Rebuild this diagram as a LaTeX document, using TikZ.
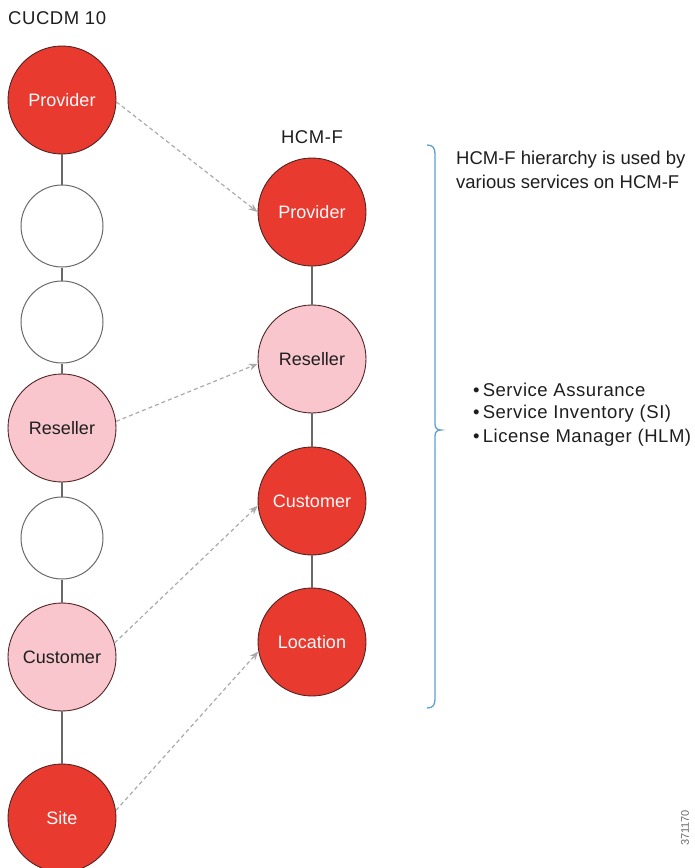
\documentclass[tikz,border=0pt]{standalone}
\usepackage{fontspec}
\setmainfont{Liberation Sans}
\newfontfamily\widesans[LetterSpace=3]{Liberation Sans}
\usetikzlibrary{arrows.meta}
\definecolor{hred}{RGB}{232,58,46}
\definecolor{hpink}{RGB}{248,198,204}
\definecolor{hedge}{RGB}{80,35,35}
\definecolor{hline}{RGB}{105,105,105}
\definecolor{hdash}{RGB}{170,170,170}
\definecolor{hblue}{RGB}{95,160,205}
\definecolor{htxt}{RGB}{30,30,30}
\begin{document}
\begin{tikzpicture}[x=1pt,y=-1pt,
  every node/.style={font=\fontsize{18}{22}\selectfont, text=htxt},
  bigred/.style={circle, draw=hedge, line width=0.9pt, fill=hred, minimum size=108pt, inner sep=0pt, text=white!92!hpink},
  bigpink/.style={circle, draw=hedge, line width=0.9pt, fill=hpink, minimum size=108pt, inner sep=0pt, text=htxt},
  empty/.style={circle, draw=hline, line width=1pt, fill=white, minimum size=82pt, inner sep=0pt},
  link/.style={draw=hline, line width=1.4pt},
  map/.style={draw=hdash, line width=1.2pt, dash pattern=on 4pt off 3pt, -{Stealth[length=9pt,width=7pt]}},
  label/.style={anchor=west, inner sep=0pt, align=left},
  side/.style={label, font=\widesans\fontsize{18.5}{24}\selectfont}]
\useasboundingbox (0,0) rectangle (695,868);
% left column
\node[bigred]  (lprov) at (62,100) {Provider};
\node[empty]   (w1)    at (62,226) {};
\node[empty]   (w2)    at (62,322) {};
\node[bigpink] (lres)  at (62,428) {Reseller};
\node[empty]   (w3)    at (62,538) {};
\node[bigpink] (lcus)  at (62,657) {Customer};
\node[bigred]  (lsite) at (62,818) {Site};
% right column
\node[bigred]  (rprov) at (312,212) {Provider};
\node[bigpink] (rres)  at (312,359) {Reseller};
\node[bigred]  (rcus)  at (312,501) {Customer};
\node[bigred]  (rloc)  at (312,642) {Location};
% titles
\node[side] (t1) at (8,18) {CUCDM 10};
\node[font=\widesans\fontsize{18.5}{22}\selectfont] (t2) at (312,137) {HCM-F};
% vertical links
\draw[link] (lprov) -- (w1);
\draw[link] (w1) -- (w2);
\draw[link] (w2) -- (lres);
\draw[link] (lres) -- (w3);
\draw[link] (w3) -- (lcus);
\draw[link] (lcus) -- (lsite);
\draw[link] (rprov) -- (rres);
\draw[link] (rres) -- (rcus);
\draw[link] (rcus) -- (rloc);
% mapping arrows
\draw[map] (lprov.-2) -- (rprov.west);
\draw[map] (lres.7) -- (rres.185);
\draw[map] (lcus.15) -- (rcus.185);
\draw[map] (lsite.8) -- (rloc.190);
% brace
\coordinate (btop) at (427,145);
\coordinate (bbot) at (427,708);
\coordinate (btip) at (441,430);
\draw[hblue, line width=1.3pt] (btop) .. controls (433,145) and (435,148) .. (435,154)
  -- (435,424) .. controls (435,428) and (437,430) .. (btip)
  .. controls (437,430) and (435,432) .. (435,436)
  -- (435,699) .. controls (435,705) and (433,708) .. (bbot);
% texts
\node[label, font=\fontsize{18.5}{24}\selectfont] (d1) at (456,170) {HCM-F hierarchy is used by\\various services on HCM-F};
\node[side] (b1) at (473,390) {\textbullet\,Service Assurance};
\node[side] (b2) at (473,414) {\textbullet\,Service Inventory (SI)};
\node[side] (b3) at (473,438) {\textbullet\,License Manager (HLM)};
\node[rotate=90, font=\fontsize{11}{12}\selectfont, text=hline] (id) at (685,828) {371170};
\end{tikzpicture}
\end{document}
